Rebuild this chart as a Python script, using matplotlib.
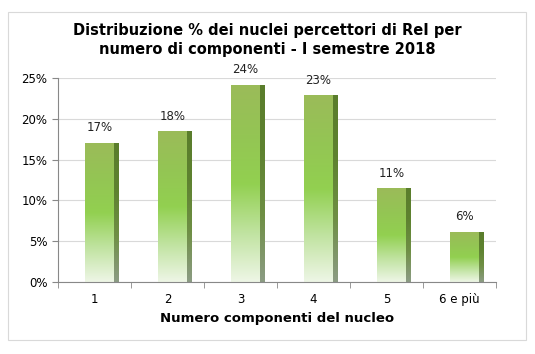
import numpy as np
import matplotlib.pyplot as plt
from matplotlib.colors import LinearSegmentedColormap
from matplotlib.patches import Rectangle

categories = ["1", "2", "3", "4", "5", "6 e più"]
values = [17.0, 18.4, 24.1, 22.8, 11.4, 6.1]
labels = ["17%", "18%", "24%", "23%", "11%", "6%"]

fig = plt.figure(figsize=(5.35, 3.54), dpi=100)
fig.patches.append(Rectangle((8 / 535, 1 - 340 / 354), 518 / 535, 328 / 354,
                             transform=fig.transFigure, fill=False,
                             edgecolor="#d9d9d9", linewidth=0.8))
ax = fig.add_axes([58 / 535, 1 - 282 / 354, 438 / 535, 204 / 354])

front = LinearSegmentedColormap.from_list("front", ["#eef6e6", "#c0e3a0", "#92d050", "#94c554", "#9bbb59"])
side = LinearSegmentedColormap.from_list("side", ["#8c9c84", "#6f8f45", "#5e8230", "#5a7d2c"])
grad = np.linspace(0, 1, 256).reshape(-1, 1)

x = np.arange(len(categories))
w_front = 0.40
w_side = 0.068
offset = 0.13
for xi, h, lab in zip(x, values, labels):
    x0 = xi - offset
    ax.imshow(grad, cmap=front, origin="lower", aspect="auto",
              extent=(x0, x0 + w_front, 0, h), zorder=2)
    ax.imshow(grad, cmap=side, origin="lower", aspect="auto",
              extent=(x0 + w_front, x0 + w_front + w_side, 0, h), zorder=2)
    ax.text(x0 + w_front / 2, h + 1.1, lab, ha="center", va="bottom",
            fontsize=8.5, color="#222222")

ax.set_xlim(-0.5, len(categories) - 0.5)
ax.set_ylim(0, 25)
ax.set_yticks([0, 5, 10, 15, 20, 25])
ax.set_yticklabels(["0%", "5%", "10%", "15%", "20%", "25%"], fontsize=8.5)
ax.set_xticks(x)
ax.set_xticklabels(categories, fontsize=8.5)
ax.set_xticks(np.arange(len(categories) + 1) - 0.5, minor=True)
ax.tick_params(axis="x", which="major", length=0, pad=8)
ax.tick_params(axis="x", which="minor", length=4, color="#888888")
ax.tick_params(axis="y", length=4, color="#888888")
ax.grid(axis="y", color="#d9d9d9", linewidth=0.8, zorder=0)
ax.set_axisbelow(True)
for s in ["top", "right"]:
    ax.spines[s].set_visible(False)
ax.spines["left"].set_color("#888888")
ax.spines["bottom"].set_color("#888888")

ax.set_xlabel("Numero componenti del nucleo", fontsize=9.5, fontweight="bold", labelpad=4)
fig.text(0.5, 0.887, "Distribuzione % dei nuclei percettori di ReI per\nnumero di componenti - I semestre 2018",
         ha="center", va="center", fontsize=10.5, fontweight="bold", linespacing=1.3)

fig.savefig("out.png", dpi=100)
